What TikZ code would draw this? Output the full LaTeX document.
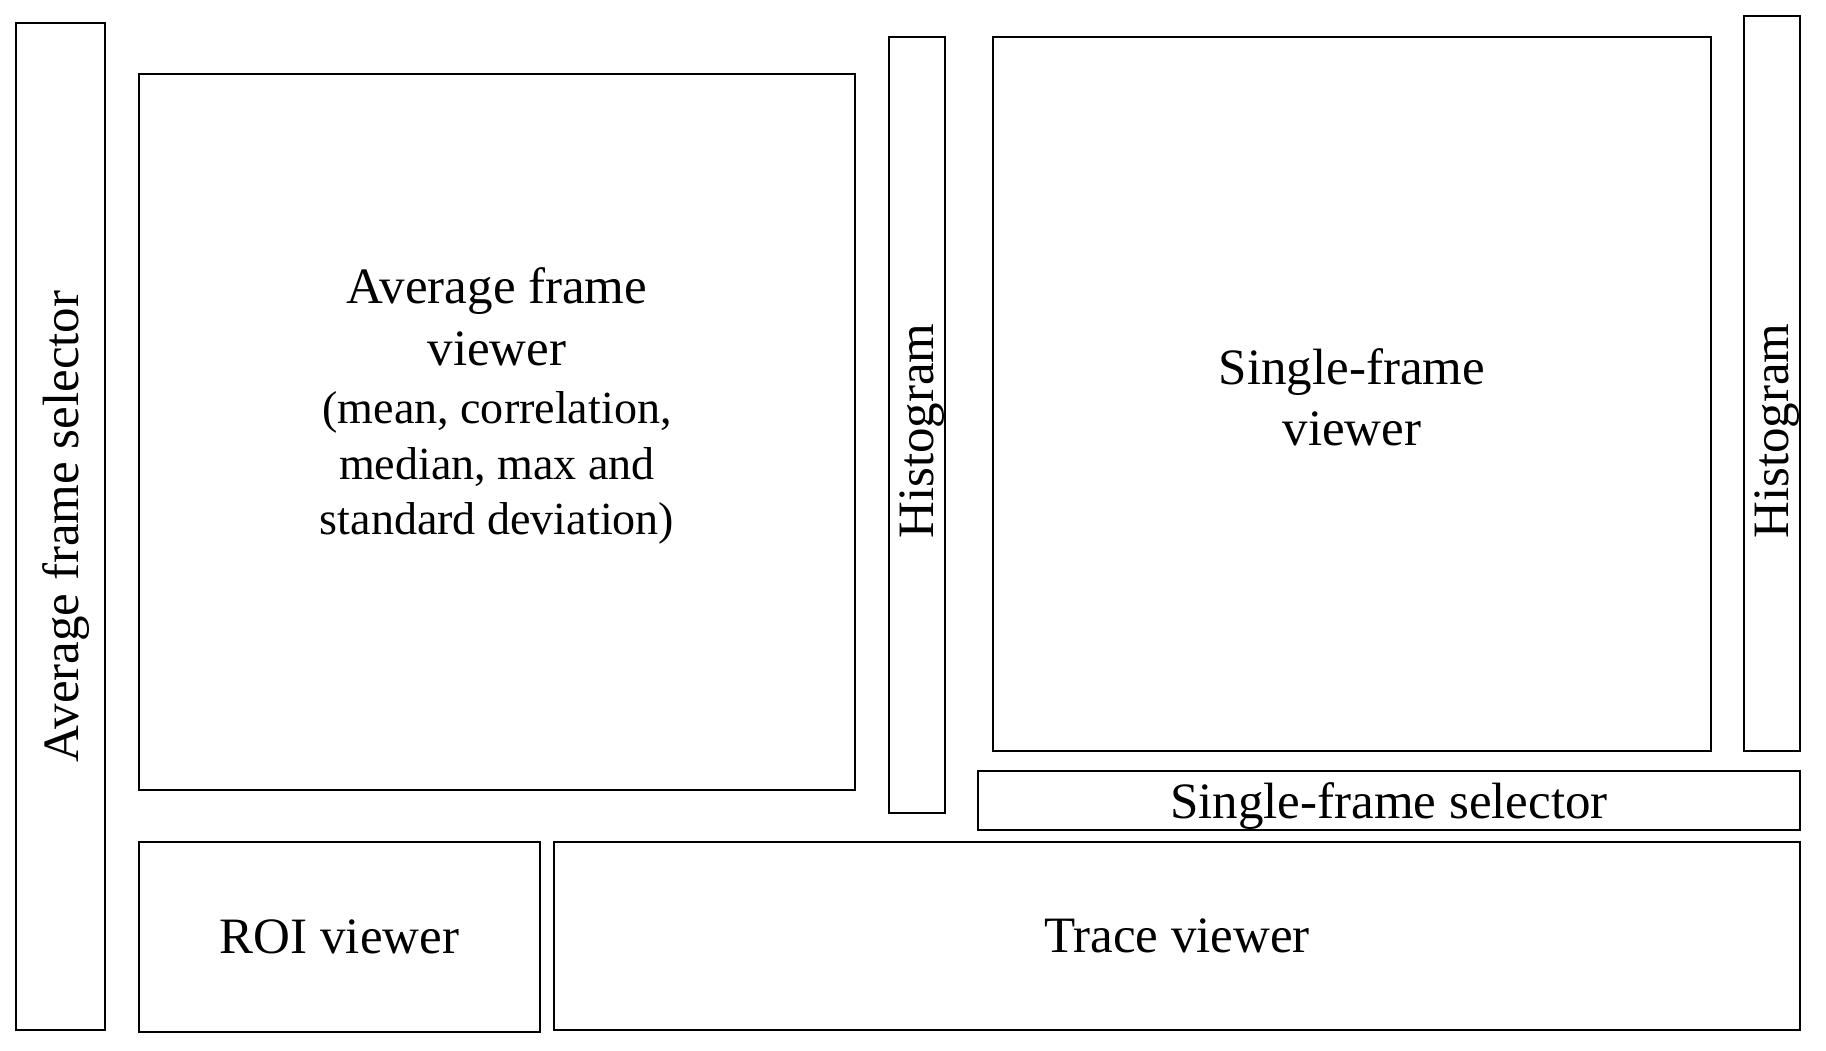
\documentclass[tikz,border=0pt]{standalone}
\usepackage{fontspec}
\setmainfont{Liberation Serif}
\tikzset{
  panel/.style={draw, line width=0.55pt, inner sep=0pt, outer sep=0pt,
    font=\fontsize{14.5}{17.6}\selectfont, align=center, text depth=0pt},
  txt/.style={inner sep=0pt, font=\fontsize{14.5}{17.6}\selectfont, align=center, text depth=0pt}
}
\begin{document}
\begin{tikzpicture}[x=0.01cm, y=-0.01cm]
      \useasboundingbox (0,0) rectangle (1826,1050);
      % left column
      \node[panel, rotate=90, minimum width=10.07cm, minimum height=0.89cm] (afs) at (60.5,526.5) {Average frame selector};
      \node[panel, minimum width=7.16cm, minimum height=7.16cm] (afv) at (497,432) {};
      \node[txt] (afvtext) at (497,401) {Average frame\\viewer\\[-1pt]
        {\fontsize{13.1}{15.9}\selectfont (mean, correlation,}\\[-1.8pt]
        {\fontsize{13.1}{15.9}\selectfont median, max and}\\[-1.8pt]
        {\fontsize{13.1}{15.9}\selectfont standard deviation)}};
      \node[panel, minimum width=0.56cm, minimum height=7.76cm] (hista) at (917,425) {};
      \node[txt, rotate=90] (histatext) at (917,431) {Histogram};
      % right column
      \node[panel, minimum width=7.18cm, minimum height=7.14cm] (sfv) at (1352,394) {};
      \node[txt] (sfvtext) at (1352,397) {Single-frame\\viewer};
      \node[panel, minimum width=0.56cm, minimum height=7.35cm] (histb) at (1772,383.5) {};
      \node[txt, rotate=90] (histbtext) at (1772,431) {Histogram};
      \node[panel, minimum width=8.22cm, minimum height=0.59cm] (sfs) at (1389,800.5) {Single-frame selector};
      % bottom row
      \node[panel, minimum width=4.01cm, minimum height=1.9cm] (roi) at (339.5,937) {ROI viewer};
      \node[panel, minimum width=12.46cm, minimum height=1.88cm] (trace) at (1177,936) {Trace viewer};
\end{tikzpicture}
\end{document}
